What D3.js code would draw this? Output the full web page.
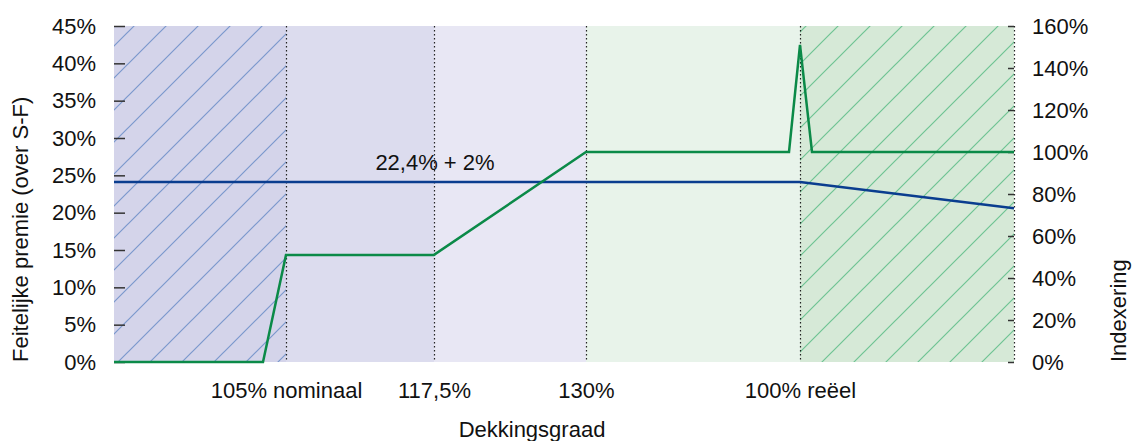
<!DOCTYPE html>
<html>
<head>
<meta charset="utf-8">
<script src="https://cdn.jsdelivr.net/npm/d3@7"></script>
<style>
  body { margin: 0; background: #fff; }
  svg text { font-family: "Liberation Sans", Arial, sans-serif; fill: #111; }
</style>
</head>
<body>
<div class="board"></div>
<script>
// x runs in plain layout units along the dekkingsgraad axis (not linear in %)
let bandEdges = [0, 172, 320, 472, 686, 900];
let bandFills = ['#d4d4ea', '#dcdcee', '#e8e7f4', '#e8f3ea', '#d6e9d7'];
let bandHatch = ['blue', null, null, null, 'green'];

let xTickPos = [172, 320, 472, 686];
let xTickLabels = ['105% nominaal', '117,5%', '130%', '100% reëel'];

let leftTicks = [0, 5, 10, 15, 20, 25, 30, 35, 40, 45];
let rightTicks = [0, 20, 40, 60, 80, 100, 120, 140, 160];

// premie (left axis)
let premieX = [0, 686, 900];
let premieY = [24.1, 24.1, 20.6];

// indexering (right axis)
let indexX = [0, 149, 172, 320, 472, 675, 686, 698, 900];
let indexY = [0, 0, 51, 51, 100, 100, 151, 100, 100];

let width = 1134, height = 441;
let margin = { left: 114, right: 120, top: 26, bottom: 79 };
let fs = 22;

let svg = d3.select('.board').append('svg')
    .attr('width', width)
    .attr('height', height);

let x = d3.scaleLinear().domain([0, 900]).range([margin.left, width - margin.right]);
let yL = d3.scaleLinear().domain([0, 45]).range([height - margin.bottom, margin.top]);
let yR = d3.scaleLinear().domain([0, 160]).range([height - margin.bottom, margin.top]);

/////// PATTERNS ///////////////////////////////////////

let defs = svg.append('defs');
let hatch = function(id, bg, line) {
  let p = defs.append('pattern')
      .attr('id', id)
      .attr('patternUnits', 'userSpaceOnUse')
      .attr('width', 32).attr('height', 32);
  p.append('rect').attr('width', 32).attr('height', 32).attr('fill', bg);
  p.append('path')
      .attr('d', 'M-4,4 L4,-4 M0,32 L32,0 M28,36 L36,28')
      .attr('stroke', line)
      .attr('stroke-width', 1.2);
};
hatch('blue', bandFills[0], '#7b98cd');
hatch('green', bandFills[4], '#6ec493');

/////// BANDS ///////////////////////////////////////

let bands = d3.range(bandFills.length).map(i => ({
  x0: bandEdges[i], x1: bandEdges[i + 1], fill: bandFills[i], hatch: bandHatch[i]
}));

svg.selectAll('rect.band')
  .data(bands)
  .enter().append('rect')
    .attr('class', 'band')
    .attr('x', d => x(d.x0))
    .attr('y', yL(45))
    .attr('width', d => x(d.x1) - x(d.x0))
    .attr('height', yL(0) - yL(45))
    .attr('fill', d => d.hatch ? `url(#${d.hatch})` : d.fill);

svg.selectAll('line.sep')
  .data(bandEdges.slice(1))
  .enter().append('line')
    .attr('x1', d => x(d) + 0.5).attr('x2', d => x(d) + 0.5)
    .attr('y1', yL(45)).attr('y2', yL(0))
    .attr('stroke', '#222')
    .attr('stroke-width', 1.2)
    .attr('stroke-dasharray', '1.5,2.5');

/////// AXES ///////////////////////////////////////

let fmt = d => d + '%';

let leftAxis = svg.append('g')
    .attr('transform', `translate(${margin.left},0)`)
    .call(d3.axisLeft(yL).tickValues(leftTicks).tickFormat(fmt).tickSize(0).tickPadding(18));
leftAxis.select('.domain').remove();
leftAxis.selectAll('.tick').append('line')
    .attr('x1', 0).attr('x2', 11)
    .attr('stroke', '#333').attr('stroke-width', 1.5);

let rightAxis = svg.append('g')
    .attr('transform', `translate(${width - margin.right},0)`)
    .call(d3.axisRight(yR).tickValues(rightTicks).tickFormat(fmt).tickSize(0).tickPadding(18));
rightAxis.select('.domain').remove();
rightAxis.selectAll('.tick').append('line')
    .attr('x1', -6).attr('x2', 0)
    .attr('stroke', '#333').attr('stroke-width', 1.5);

let bottomAxis = svg.append('g')
    .attr('transform', `translate(0,${height - margin.bottom})`)
    .call(d3.axisBottom(x).tickValues(xTickPos).tickFormat((d, i) => xTickLabels[i]).tickSize(0).tickPadding(20));
bottomAxis.select('.domain').remove();

svg.selectAll('g').attr('font-family', null).attr('font-size', null);
svg.selectAll('.tick text').attr('fill', '#111').style('font-size', fs + 'px');

/////// TITLES ///////////////////////////////////////

svg.append('text')
    .attr('transform', `translate(28,${yL(0)}) rotate(-90)`)
    .attr('font-size', fs)
    .text('Feitelijke premie (over S-F)');

svg.append('text')
    .attr('transform', `translate(1126,${yL(0)}) rotate(-90)`)
    .attr('font-size', fs)
    .text('Indexering');

svg.append('text')
    .attr('x', 532).attr('y', 437)
    .attr('text-anchor', 'middle')
    .attr('font-size', fs)
    .text('Dekkingsgraad');

/////// LINES ///////////////////////////////////////

let premie = premieX.map((d, i) => [d, premieY[i]]);
let index = indexX.map((d, i) => [d, indexY[i]]);

svg.append('path')
    .datum(premie)
    .attr('fill', 'none')
    .attr('stroke', '#0a3d8f')
    .attr('stroke-width', 2.5)
    .attr('d', d3.line().x(d => x(d[0])).y(d => yL(d[1])));

svg.append('path')
    .datum(index)
    .attr('fill', 'none')
    .attr('stroke', '#0b8a48')
    .attr('stroke-width', 2.5)
    .attr('stroke-linejoin', 'miter')
    .attr('d', d3.line().x(d => x(d[0])).y(d => yR(d[1])));

svg.append('text')
    .attr('x', 435).attr('y', yL(24.1) - 12)
    .attr('text-anchor', 'middle')
    .attr('font-size', fs)
    .text('22,4% + 2%');
</script>
</body>
</html>
